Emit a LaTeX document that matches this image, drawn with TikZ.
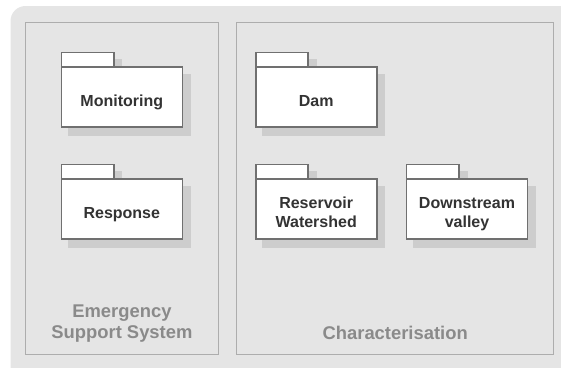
\documentclass[tikz,border=0pt]{standalone}
\usepackage{fontspec}
\setmainfont{Liberation Sans}
\usetikzlibrary{calc}
\definecolor{bgcol}{HTML}{E5E5E5}
\definecolor{framecol}{HTML}{ADADAD}
\definecolor{pkcol}{HTML}{707070}
\definecolor{shadowcol}{HTML}{CDCDCD}
\definecolor{txtcol}{HTML}{333333}
\definecolor{titlecol}{HTML}{8A8A8A}
\tikzset{
  frame/.style={draw=framecol, line width=1pt, fill=none, outer sep=0pt, inner sep=0pt},
  pkline/.style={draw=pkcol, line width=1.6pt, fill=white},
  pkbody/.style={draw=pkcol, line width=1.6pt, fill=white, minimum width=121pt, minimum height=60pt, inner sep=0pt, outer sep=0pt},
  pkshadow/.style={fill=shadowcol},
  pktext/.style={text=txtcol, font=\bfseries\fontsize{16}{19}\selectfont, align=center, inner sep=0pt},
  titletext/.style={text=titlecol, font=\bfseries\fontsize{18.4}{21}\selectfont, align=center, inner sep=0pt},
}
\newcommand\umlpkg[3]{%
  \fill[pkshadow] (#2+6.5,#3-14.7+6.5) rectangle (#2+52.5+8.5,#3+8);
  \fill[pkshadow] (#2+6.5,#3+7) rectangle (#2+121+8.5,#3+60+9);
  \draw[pkline] (#2,#3-14.7) rectangle (#2+52.5,#3);
  \node[pkbody,anchor=north west] (#1) at (#2,#3) {};
}
\begin{document}
\begin{tikzpicture}[x=1pt,y=-1pt]
\useasboundingbox (0,0) rectangle (561,367);
\begin{scope}
\clip (0,0) rectangle (561,367);
\fill[bgcol, rounded corners=15pt] (10.5,6) rectangle (590,395);
\end{scope}
% frames
\node[frame, minimum width=193.4pt, minimum height=332pt, anchor=north west] (ess) at (25.3,22.5) {};
\node[frame, minimum width=317pt, minimum height=332pt, anchor=north west] (char) at (236.7,22.5) {};
% packages
\umlpkg{mon}{61.3}{67}
\umlpkg{resp}{61.3}{179}
\umlpkg{dam}{255.7}{67}
\umlpkg{res}{255.7}{179}
\umlpkg{down}{406.5}{179}
% package texts
\node[pktext, anchor=base] (mon-t) at ($(mon.center)+(0,9.3)$) {Monitoring};
\node[pktext, anchor=base] (resp-t) at ($(resp.center)+(0,9.3)$) {Response};
\node[pktext, anchor=base] (dam-t) at ($(dam.center)+(0,9.3)$) {Dam};
\node[pktext, anchor=base] (res-t) at ($(res.center)+(0,18.3)$) {Reservoir\\Watershed};
\node[pktext, anchor=base] (down-t) at ($(down.center)+(0,18.3)$) {Downstream\\valley};
% titles
\node[titletext, anchor=base] (ess-t) at (121.9,338.3) {Emergency\\Support System};
\node[titletext, anchor=base] (char-t) at (395.2,339.3) {Characterisation};
\end{tikzpicture}
\end{document}
